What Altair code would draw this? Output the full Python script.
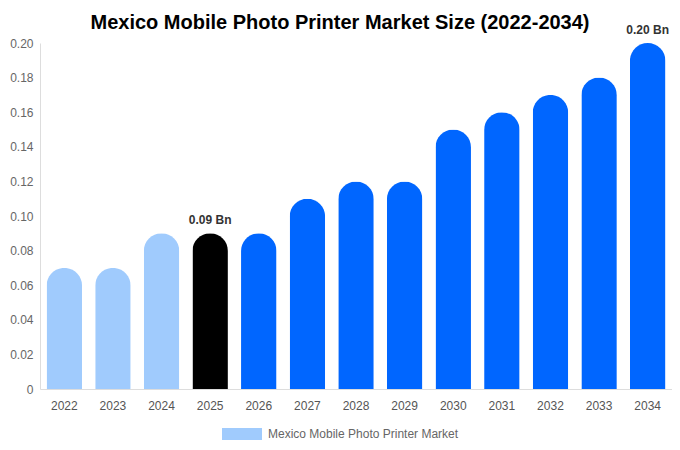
import pandas as pd
import altair as alt

# chart values
years = ["2022", "2023", "2024", "2025", "2026", "2027", "2028",
         "2029", "2030", "2031", "2032", "2033", "2034"]
market_size = [0.07, 0.07, 0.09, 0.09, 0.09, 0.11, 0.12,
               0.12, 0.15, 0.16, 0.17, 0.18, 0.20]
bar_labels = ["", "", "", "0.09 Bn", "", "", "", "", "", "", "", "", "0.20 Bn"]
series_name = "Mexico Mobile Photo Printer Market"

df = pd.DataFrame({
    "year": years,
    "value": market_size,
    "label": bar_labels,
    "series": series_name,
})

FONT = "Liberation Sans"

base = alt.Chart(df).encode(
    x=alt.X("year:O", sort=None, title=None,
            scale=alt.Scale(paddingInner=0.27, paddingOuter=0.135),
            axis=alt.Axis(labelAngle=0, labelColor="#555555", labelFontSize=12,
                          labelFont=FONT, labelPadding=11, ticks=False,
                          domainColor="#dddddd")),
    y=alt.Y("value:Q", title=None,
            scale=alt.Scale(domain=[0, 0.2], nice=False),
            axis=alt.Axis(values=[0, 0.02, 0.04, 0.06, 0.08, 0.1, 0.12, 0.14, 0.16, 0.18, 0.2],
                          labelExpr="datum.value == 0 ? '0' : format(datum.value, '.2f')",
                          labelColor="#666666", labelFontSize=12, labelFont=FONT,
                          labelPadding=7, ticks=False, grid=False,
                          domainColor="#dddddd")),
)

bars = base.mark_bar(cornerRadiusTopLeft=18, cornerRadiusTopRight=18).encode(
    color=alt.Color(
        "series:N",
        scale=alt.Scale(domain=[series_name], range=["#a0cbfd"]),
        legend=alt.Legend(title=None, orient="none", legendX=182, legendY=371,
                          padding=0, symbolType="M-1,-0.3H1V0.3H-1Z", symbolSize=1600,
                          symbolStrokeWidth=0, labelColor="#666666", labelLimit=0,
                          labelFontSize=12, labelFont=FONT, labelOffset=6),
        condition=[
            {"test": "datum.year == '2025'", "value": "#000000"},
            {"test": "toNumber(datum.year) > 2025", "value": "#0066ff"},
        ],
    )
)

text = base.transform_filter("datum.label != ''").mark_text(
    dy=-6, fontSize=12, fontWeight="bold", font=FONT, color="#333333",
    baseline="bottom"
).encode(text="label:N")

chart = (bars + text).properties(
    width=632,
    height=346,
    autosize=alt.AutoSizeParams(type="none"),
    padding={"left": 32, "top": 35, "right": 0, "bottom": 53},
    title=alt.TitleParams(
        "Mexico Mobile Photo Printer Market Size (2022-2034)",
        fontSize=20, font=FONT, fontWeight="bold", color="#000000",
        anchor="middle", dx=-16, offset=-9,
    ),
).configure_view(stroke=None)

chart.save("out.html", embed_options={"renderer": "svg", "actions": False})
